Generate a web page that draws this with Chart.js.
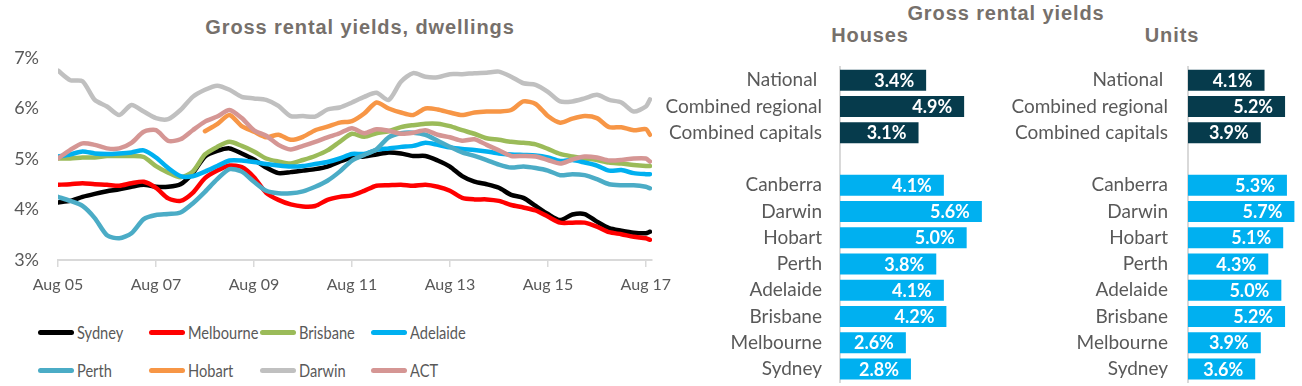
<!DOCTYPE html>
<html>
<head>
<meta charset="utf-8">
<script src="https://cdn.jsdelivr.net/npm/chart.js@4.4.0/dist/chart.umd.min.js"></script>
<style>
  body { margin: 0; width: 1302px; height: 386px; background: #fff; position: relative; overflow: hidden; font-family: Lato, sans-serif; }
  .box { position: absolute; }
  .title { position: absolute; font-family: "Liberation Sans", Arial, sans-serif; font-weight: bold; color: #76706B; font-size: 20px; line-height: 22px; white-space: nowrap; transform: translateX(-50%); letter-spacing: 0.9px; }
  #legend { position: absolute; left: 38px; top: 313px; display: grid; grid-template-columns: repeat(4, 111px); }
  .item { display: flex; align-items: center; height: 38px; font-size: 17px; color: #595959; white-space: nowrap; }
  .item span.txt { display: inline-block; transform: scaleX(0.86); transform-origin: left center; }
  .swatch { width: 36px; height: 5px; border-radius: 3px; margin-right: 3px; flex: none; }
</style>
</head>
<body>
<div class="title" style="left:360px; top:16px;">Gross rental yields, dwellings</div>
<div class="title" style="left:1006px; top:2px;">Gross rental yields</div>
<div class="title" style="left:870px; top:24px;">Houses</div>
<div class="title" style="left:1172px; top:24px;">Units</div>

<div class="box" style="left:0; top:40px;"><canvas id="lines" width="680" height="270"></canvas></div>
<div id="legend"></div>
<div class="box" style="left:660px; top:60px;"><canvas id="houses" width="340" height="326"></canvas></div>
<div class="box" style="left:990px; top:60px;"><canvas id="units" width="312" height="326"></canvas></div>

<script>
// months since Aug 2005, read roughly every quarter
const months = [0,3,6,9,12,15,18,21,24,27,30,33,36,39,42,45,48,51,54,57,60,63,66,69,72,75,78,81,84,87,90,93,96,99,102,105,108,111,114,117,120,123,126,129,132,135,138,141,144,145];
const tickMonths = [0, 24, 48, 72, 96, 120, 144];
const tickLabels = ['Aug 05', 'Aug 07', 'Aug 09', 'Aug 11', 'Aug 13', 'Aug 15', 'Aug 17'];

const sydney = [4.14,4.17,4.25,4.31,4.36,4.40,4.45,4.49,4.45,4.45, 4.50,4.72,5.05,5.16,5.21,5.11,4.99,4.83,4.72,4.74, 4.77,4.80,4.85,4.95,5.03,5.05,5.09,5.13,5.11,5.06, 5.06,4.97,4.85,4.66,4.55,4.50,4.43,4.29,4.23,4.07, 3.91,3.79,3.90,3.91,3.76,3.63,3.58,3.54,3.53,3.56];
const melbourne = [4.49,4.50,4.52,4.50,4.49,4.47,4.52,4.55,4.43,4.22, 4.17,4.33,4.62,4.77,4.87,4.84,4.64,4.33,4.19,4.10, 4.06,4.07,4.19,4.25,4.28,4.37,4.47,4.48,4.49,4.47, 4.49,4.45,4.37,4.23,4.20,4.20,4.17,4.09,4.04,3.98, 3.86,3.74,3.74,3.74,3.66,3.55,3.51,3.46,3.43,3.40];
const brisbane = [5.01,5.01,5.03,5.03,5.06,5.06,5.06,5.04,4.86,4.73, 4.64,4.75,5.09,5.24,5.34,5.26,5.15,5.01,4.95,4.91, 4.98,5.06,5.17,5.34,5.50,5.44,5.51,5.55,5.63,5.67, 5.70,5.70,5.65,5.57,5.50,5.41,5.38,5.34,5.32,5.29, 5.20,5.10,5.05,5.01,4.98,4.93,4.91,4.88,4.86,4.86];
const adelaide = [5.05,5.09,5.15,5.11,5.10,5.11,5.13,5.17,5.03,4.82, 4.66,4.66,4.75,4.86,4.97,4.97,4.94,4.90,4.87,4.85, 4.86,4.90,4.94,5.01,5.10,5.10,5.18,5.21,5.24,5.26, 5.32,5.28,5.23,5.20,5.18,5.15,5.11,5.09,5.08,5.07, 5.03,4.96,4.98,4.93,4.87,4.77,4.78,4.72,4.70,4.70];
const perth = [4.25,4.17,4.07,3.83,3.49,3.43,3.53,3.81,3.89,3.91, 3.94,4.12,4.35,4.60,4.80,4.75,4.55,4.37,4.32,4.32, 4.36,4.45,4.57,4.75,4.97,5.08,5.19,5.43,5.51,5.52, 5.48,5.36,5.24,5.13,5.06,4.98,4.89,4.83,4.85,4.82, 4.77,4.68,4.70,4.68,4.60,4.50,4.48,4.48,4.45,4.42];
const hobart = [null,null,null,null,null,null,null,null,null,null, null,null,5.55,5.69,5.87,5.65,5.54,5.43,5.48,5.38, 5.44,5.57,5.64,5.72,5.75,5.90,6.12,6.00,5.92,5.87, 6.00,5.98,5.92,5.87,5.92,5.94,5.94,5.97,6.14,6.09, 5.85,5.72,5.80,5.85,5.81,5.63,5.63,5.57,5.59,5.48];
const darwin = [6.75,6.56,6.54,6.17,6.04,5.87,6.07,5.94,5.81,5.79, 5.97,6.23,6.37,6.45,6.37,6.23,6.20,6.17,6.05,5.85, 5.85,5.84,5.98,6.02,6.12,6.23,6.31,6.17,6.53,6.70, 6.63,6.62,6.68,6.68,6.70,6.71,6.73,6.63,6.50,6.47, 6.33,6.14,6.14,6.20,6.27,6.17,6.12,5.94,6.04,6.18];
const act = [5.01,5.18,5.31,5.28,5.21,5.21,5.32,5.54,5.57,5.36, 5.39,5.57,5.74,5.84,5.97,5.81,5.57,5.46,5.28,5.19, 5.26,5.34,5.43,5.51,5.61,5.51,5.59,5.56,5.50,5.52, 5.57,5.48,5.43,5.36,5.39,5.28,5.17,5.06,5.06,5.05, 4.98,4.91,4.99,5.05,5.03,4.97,4.98,5.01,5.01,4.95];

const cityNames = ['Sydney', 'Melbourne', 'Brisbane', 'Adelaide', 'Perth', 'Hobart', 'Darwin', 'ACT'];
const citySeries = [sydney, melbourne, brisbane, adelaide, perth, hobart, darwin, act];
const cityColors = ['#000000', '#FF0000', '#9BBB59', '#00B0F0', '#4BACC6', '#F79646', '#C0C0C0', '#D59694'];

const barCategories = ['National ', 'Combined regional', 'Combined capitals', '', 'Canberra', 'Darwin', 'Hobart', 'Perth', 'Adelaide', 'Brisbane', 'Melbourne', 'Sydney'];
const houseYields = [3.4, 4.9, 3.1, null, 4.1, 5.6, 5.0, 3.8, 4.1, 4.2, 2.6, 2.8];
const unitYields = [4.1, 5.2, 3.9, null, 5.3, 5.7, 5.1, 4.3, 5.0, 5.2, 3.9, 3.6];
const barColors = ['#063B4C', '#063B4C', '#063B4C', '#063B4C', '#00B0F0', '#00B0F0', '#00B0F0', '#00B0F0', '#00B0F0', '#00B0F0', '#00B0F0', '#00B0F0'];

const grey = '#595959';

new Chart(document.getElementById('lines'), {
    type: 'line',
    data: {
        labels: months,
        datasets: cityNames.map((name, i) => ({
            label: name,
            data: citySeries[i],
            borderColor: cityColors[i],
            borderWidth: 4.5,
            pointRadius: 0,
            tension: 0.25,
            borderCapStyle: 'round',
            borderJoinStyle: 'round',
            fill: false,
            order: cityNames.length - i
        }))
    },
    options: {
        responsive: false,
        animation: false,
        devicePixelRatio: 1,
        layout: { padding: { left: 0, right: 28, top: 18, bottom: 0 } },
        plugins: { legend: { display: false }, tooltip: { enabled: false } },
        scales: {
            x: {
                type: 'linear',
                min: 0,
                max: 145.5,
                afterBuildTicks: (axis) => { axis.ticks = tickMonths.map(v => ({ value: v })); },
                afterFit: (axis) => { axis.height = 50; axis.paddingLeft = 0; axis.paddingRight = 0; },
                grid: { drawOnChartArea: false, drawTicks: true, tickLength: 7, color: '#D9D9D9', lineWidth: 1.5 },
                border: { display: true, color: '#D9D9D9', width: 2 },
                ticks: {
                    autoSkip: false,
                    maxRotation: 0,
                    padding: 8,
                    color: grey,
                    font: { family: 'Lato', size: 16 },
                    callback: (v) => tickLabels[tickMonths.indexOf(v)]
                }
            },
            y: {
                min: 3,
                max: 7,
                afterFit: (axis) => { axis.width = 58; axis.paddingTop = 0; axis.paddingBottom = 0; },
                grid: { display: false, drawTicks: false },
                border: { display: false },
                ticks: {
                    stepSize: 1,
                    padding: 19,
                    color: grey,
                    font: { family: 'Lato', size: 18 },
                    callback: (v) => v + '%'
                }
            }
        }
    }
});

// legend under the line chart
const legend = document.getElementById('legend');
cityNames.forEach((name, i) => {
    const item = document.createElement('div');
    item.className = 'item';
    item.innerHTML = '<span class="swatch" style="background:' + cityColors[i] + '"></span><span class="txt">' + name + '</span>';
    legend.appendChild(item);
});

const barText = {
    id: 'barText',
    afterDatasetsDraw(chart) {
        const ctx = chart.ctx;
        const values = chart.data.datasets[0].data;
        ctx.save();
        ctx.font = 'bold 18px Lato';
        ctx.fillStyle = '#FFFFFF';
        ctx.textAlign = 'right';
        ctx.textBaseline = 'middle';
        chart.getDatasetMeta(0).data.forEach((bar, i) => {
            if (values[i] == null) return;
            ctx.fillText(values[i].toFixed(1) + '%', bar.x - 12, bar.y + 1);
        });
        ctx.restore();
    }
};

function barChart(id, values, axisWidth, padRight, labelPad) {
    new Chart(document.getElementById(id), {
        type: 'bar',
        data: {
            labels: barCategories,
            datasets: [{
                data: values,
                backgroundColor: barColors,
                barPercentage: 1,
                categoryPercentage: 0.8
            }]
        },
        options: {
            indexAxis: 'y',
            responsive: false,
            animation: false,
            devicePixelRatio: 1,
            layout: { padding: { left: 0, right: padRight, top: 7, bottom: 4 } },
            plugins: { legend: { display: false }, tooltip: { enabled: false } },
            scales: {
                x: { display: false, min: 0, max: 6 },
                y: {
                    afterFit: (axis) => { axis.width = axisWidth; axis.paddingTop = 0; axis.paddingBottom = 0; },
                    grid: { display: false, drawTicks: false },
                    border: { display: true, color: '#D9D9D9', width: 2 },
                    ticks: { autoSkip: false, padding: labelPad, color: grey, font: { family: 'Lato', size: 19 } }
                }
            }
        },
        plugins: [barText]
    });
}

barChart('houses', houseYields, 180, 8, 18);
barChart('units', unitYields, 198, 2, 20);
</script>
</body>
</html>
